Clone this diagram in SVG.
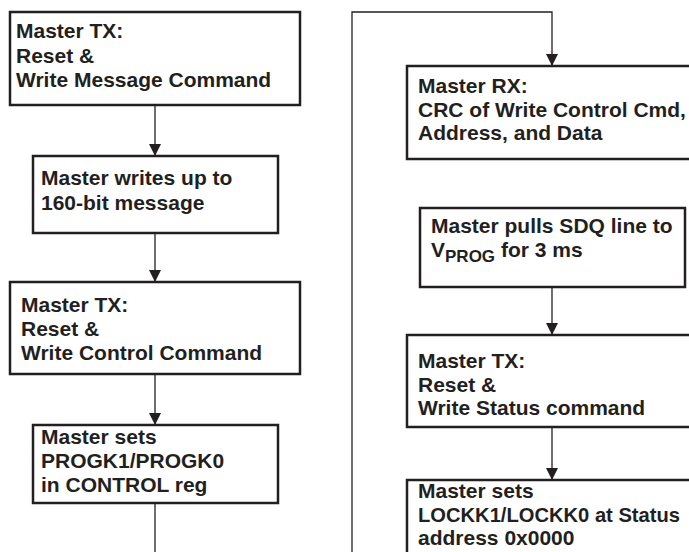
<svg xmlns="http://www.w3.org/2000/svg" width="689" height="552" viewBox="0 0 689 552">
<defs>
<style>
.box{fill:#fff;stroke:#231f20;stroke-width:2.5}
.t{font-family:"Liberation Sans",Arial,sans-serif;font-weight:bold;font-size:21px;fill:#231f20}
.c{fill:none;stroke:#231f20;stroke-width:1.3}
</style>
<marker id="ah" markerUnits="userSpaceOnUse" markerWidth="12" markerHeight="12" refX="12" refY="6" orient="auto">
<path d="M0,0 L12,6 L0,12 Z" fill="#231f20"/>
</marker>
</defs>
<rect width="689" height="552" fill="#fff"/>
<g id="connectors">
<line class="c" x1="155" y1="105" x2="155" y2="156" marker-end="url(#ah)"/>
<line class="c" x1="155" y1="233" x2="155" y2="282" marker-end="url(#ah)"/>
<line class="c" x1="155" y1="374" x2="155" y2="425" marker-end="url(#ah)"/>
<line class="c" x1="155" y1="503" x2="155" y2="552"/>
<path class="c" d="M352,552 V12 H552 V66" marker-end="url(#ah)"/>
<line class="c" x1="552" y1="287" x2="552" y2="335" marker-end="url(#ah)"/>
<line class="c" x1="552" y1="427" x2="552" y2="480" marker-end="url(#ah)"/>
</g>
<g id="n1">
<rect class="box" x="10" y="12" width="290" height="93"/>
<text class="t" x="16" y="38">Master TX:</text>
<text class="t" x="16" y="63">Reset &amp;</text>
<text class="t" x="16" y="87">Write Message Command</text>
</g>
<g id="n2">
<rect class="box" x="33" y="156" width="245" height="77"/>
<text class="t" x="41" y="185">Master writes up to</text>
<text class="t" x="41" y="210">160-bit message</text>
</g>
<g id="n3">
<rect class="box" x="10" y="282" width="290" height="92"/>
<text class="t" x="21" y="312">Master TX:</text>
<text class="t" x="21" y="336">Reset &amp;</text>
<text class="t" x="21" y="360">Write Control Command</text>
</g>
<g id="n4">
<rect class="box" x="33" y="425" width="245" height="78"/>
<text class="t" x="41" y="444">Master sets</text>
<text class="t" x="41" y="468">PROGK1/PROGK0</text>
<text class="t" x="41" y="492">in CONTROL reg</text>
</g>
<g id="n5">
<rect class="box" x="407" y="66" width="300" height="93"/>
<text class="t" x="418" y="93">Master RX:</text>
<text class="t" x="418" y="117">CRC of Write Control Cmd,</text>
<text class="t" x="418" y="140">Address, and Data</text>
</g>
<g id="n6">
<rect class="box" x="420" y="208" width="265" height="79"/>
<text class="t" x="431" y="233">Master pulls SDQ line to</text>
<text class="t" x="431" y="257">V<tspan font-size="17" dy="5">PROG</tspan><tspan dy="-5"> for 3 ms</tspan></text>
</g>
<g id="n7">
<rect class="box" x="407" y="335" width="300" height="92"/>
<text class="t" x="418" y="368">Master TX:</text>
<text class="t" x="418" y="392">Reset &amp;</text>
<text class="t" x="418" y="415">Write Status command</text>
</g>
<g id="n8">
<rect class="box" x="407" y="480" width="300" height="100"/>
<text class="t" x="418" y="498">Master sets</text>
<text class="t" x="418" y="522" textLength="262" lengthAdjust="spacingAndGlyphs">LOCKK1/LOCKK0 at Status</text>
<text class="t" x="418" y="545">address 0x0000</text>
</g>
</svg>
